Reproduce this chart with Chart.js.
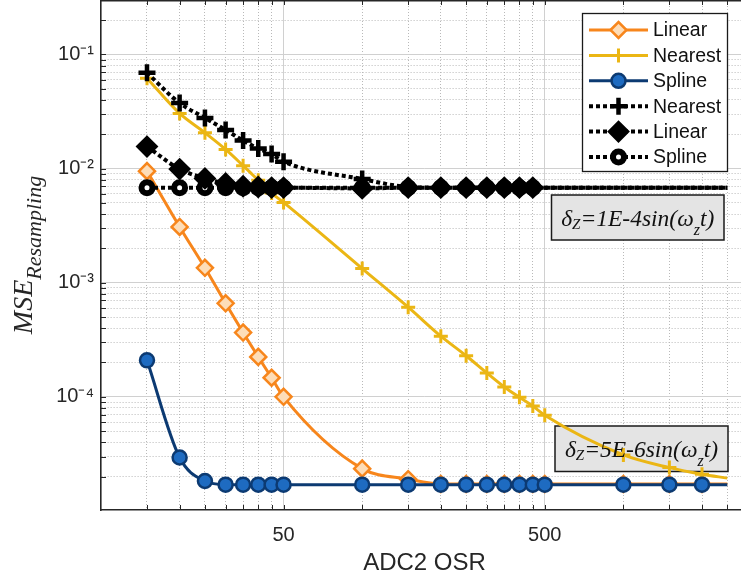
<!DOCTYPE html>
<html>
<head>
<meta charset="utf-8">
<title>MSE Resampling vs ADC2 OSR</title>
<script src="https://cdn.jsdelivr.net/npm/chart.js@4.4.1/dist/chart.umd.min.js"></script>
<style>
  html, body { margin: 0; padding: 0; background: #fff; overflow: hidden; }
  #frame { width: 741px; height: 581px; overflow: hidden; }
  #box { width: 749px; height: 581px; position: relative; }
</style>
</head>
<body>
<div id="frame"><div id="box"><canvas id="mseChart"></canvas></div></div>
<script>
// ADC2 OSR sample points
const osr = [15, 20, 25, 30, 35, 40, 45, 50, 100, 150, 200, 250, 300, 350, 400, 450, 500, 1000, 1500, 2000, 2500];

// dz = 5E-6 sin(wz t)  -> solid lines
const linearSmall  = [9.5e-3, 3.08e-3, 1.35e-3, 6.6e-4, 3.66e-4, 2.24e-4, 1.47e-4, 1.0e-4, 2.35e-5, 1.9e-5,
                      1.72e-5, 1.72e-5, 1.72e-5, 1.72e-5, 1.72e-5, 1.72e-5, 1.72e-5, 1.72e-5, 1.72e-5, 1.72e-5, 1.72e-5];
const nearestSmall = [6.2e-2, 3.04e-2, 2.06e-2, 1.47e-2, 1.06e-2, 7.9e-3, 6.1e-3, 5.05e-3, 1.33e-3, 6.1e-4,
                      3.4e-4, 2.29e-4, 1.62e-4, 1.22e-4, 9.9e-5, 8.3e-5, 6.9e-5, 3.1e-5, 2.4e-5, 2.1e-5, 1.94e-5];
const splineSmall  = [2.09e-4, 2.94e-5, 1.83e-5, 1.7e-5, 1.7e-5, 1.7e-5, 1.7e-5, 1.7e-5, 1.7e-5, 1.7e-5,
                      1.7e-5, 1.7e-5, 1.7e-5, 1.7e-5, 1.7e-5, 1.7e-5, 1.7e-5, 1.7e-5, 1.7e-5, 1.7e-5, 1.7e-5];

// dz = 1E-4 sin(wz t)  -> dotted lines
const nearestLarge = [6.9e-2, 3.75e-2, 2.78e-2, 2.18e-2, 1.76e-2, 1.5e-2, 1.34e-2, 1.15e-2, 8.1e-3, 6.9e-3,
                      6.8e-3, 6.8e-3, 6.8e-3, 6.8e-3, 6.8e-3, 6.8e-3, 6.8e-3, 6.8e-3, 6.8e-3, 6.8e-3, 6.8e-3];
const linearLarge  = [1.56e-2, 9.9e-3, 8.2e-3, 7.4e-3, 7.0e-3, 6.9e-3, 6.8e-3, 6.8e-3, 6.7e-3, 6.8e-3,
                      6.8e-3, 6.8e-3, 6.8e-3, 6.8e-3, 6.8e-3, 6.8e-3, 6.8e-3, 6.8e-3, 6.8e-3, 6.8e-3, 6.8e-3];
const splineLarge  = [6.8e-3, 6.8e-3, 6.8e-3, 6.8e-3, 6.8e-3, 6.8e-3, 6.8e-3, 6.8e-3, 6.8e-3, 6.8e-3,
                      6.8e-3, 6.8e-3, 6.8e-3, 6.8e-3, 6.8e-3, 6.8e-3, 6.8e-3, 6.8e-3, 6.8e-3, 6.8e-3, 6.8e-3];

// axis ticks
const xTicks = [15, 20, 25, 30, 35, 40, 45, 50, 100, 150, 200, 250, 300, 350, 400, 450, 500, 1000, 1500, 2000, 2500];
const xLabelled = [50, 500];
const yLabelled = [1e-4, 1e-3, 1e-2, 1e-1];
const yLabelText = ['10\u207B\u2074', '10\u207B\u00B3', '10\u207B\u00B2', '10\u207B\u00B9'];

const Y_MIN = 1.02e-5, Y_MAX = 0.3;
const yTicks = [];
for (let e = -5; e <= -1; e++) {
  for (let k = 1; k <= 9; k++) {
    const v = k * Math.pow(10, e);
    if (v > Y_MIN && v < Y_MAX) yTicks.push(v);
  }
}

const near = (a, b) => Math.abs(a - b) / b < 1e-6;
const isX = (v) => xLabelled.some((d) => near(v, d));
const isY = (v) => yLabelled.some((d) => near(v, d));

const sansFont = '"Liberation Sans", Arial, Helvetica, sans-serif';
const serifFont = '"Liberation Serif", "Times New Roman", serif';
Chart.defaults.font.family = sansFont;
Chart.defaults.color = '#262626';

const pts = (ys) => osr.map((x, i) => ({ x: x, y: ys[i] }));
const markerRadius = (c) =>
  c.raw && c.raw.x > c.dataset.lastMarker ? 0 : c.dataset.markerSize;

function series(label, ys, style) {
  return Object.assign({
    label: label,
    data: pts(ys),
    fill: false,
    cubicInterpolationMode: 'monotone',
    borderCapStyle: 'butt',
    pointRadius: markerRadius,
    pointHoverRadius: markerRadius,
  }, style);
}

const datasets = [
  series('Linear', linearSmall, {
    borderColor: '#F7861C', borderWidth: 3, order: 5,
    pointStyle: 'rectRot', markerSize: 8, lastMarker: 2000,
    pointBackgroundColor: '#FDDDB8', pointBorderColor: '#F7861C', pointBorderWidth: 2.5,
  }),
  series('Nearest', nearestSmall, {
    borderColor: '#EBB614', borderWidth: 3, order: 4,
    pointStyle: 'cross', markerSize: 7, lastMarker: 2000,
    pointBackgroundColor: '#EBB614', pointBorderColor: '#EBB614', pointBorderWidth: 3,
  }),
  series('Spline', splineSmall, {
    borderColor: '#0C3A72', borderWidth: 3, order: 3,
    pointStyle: 'circle', markerSize: 7, lastMarker: 2000,
    pointBackgroundColor: '#1E6BC1', pointBorderColor: '#0C3A72', pointBorderWidth: 2.5,
  }),
  series('Nearest', nearestLarge, {
    borderColor: '#000', borderWidth: 4, borderDash: [4, 3], order: 2,
    pointStyle: 'cross', markerSize: 8.5, lastMarker: 450,
    pointBackgroundColor: '#000', pointBorderColor: '#000', pointBorderWidth: 4.5,
  }),
  series('Linear', linearLarge, {
    borderColor: '#000', borderWidth: 4, borderDash: [4, 3], order: 0,
    pointStyle: 'rectRot', markerSize: 10, lastMarker: 450,
    pointBackgroundColor: '#000', pointBorderColor: '#000', pointBorderWidth: 2,
  }),
  series('Spline', splineLarge, {
    borderColor: '#000', borderWidth: 4, borderDash: [4, 3], order: 1,
    pointStyle: 'circle', markerSize: 5.5, lastMarker: 450,
    pointBackgroundColor: '#fff', pointBorderColor: '#000', pointBorderWidth: 6,
  }),
];

// rich text with sub scripts: parts = [text, size, dy]
function drawRich(ctx, parts, cx, baseY, family, italic) {
  const font = (s) => (italic ? 'italic ' : '') + s + 'px ' + family;
  let total = 0;
  parts.forEach((p) => { ctx.font = font(p[1]); total += ctx.measureText(p[0]).width; });
  let x = cx - total / 2;
  ctx.textAlign = 'left';
  ctx.textBaseline = 'alphabetic';
  parts.forEach((p) => {
    ctx.font = font(p[1]);
    ctx.fillText(p[0], x, baseY + p[2]);
    x += ctx.measureText(p[0]).width;
  });
}

const notes = [
  { x: 551.5, y: 195, w: 172.5, h: 45, base: 226,
    parts: [['\u03B4', 23.5, 0], ['Z', 15, 3], ['=1E-4sin(\u03C9', 23.5, 0], ['z', 16, 9], ['t)', 23.5, 0]] },
  { x: 555, y: 426, w: 173, h: 45.5, base: 457,
    parts: [['\u03B4', 23.5, 0], ['Z', 15, 3], ['=5E-6sin(\u03C9', 23.5, 0], ['z', 16, 9], ['t)', 23.5, 0]] },
];

const noteBoxes = {
  id: 'noteBoxes',
  beforeDatasetsDraw(chart) {
    const ctx = chart.ctx;
    ctx.save();
    notes.forEach((n) => {
      ctx.fillStyle = '#E4E4E4';
      ctx.fillRect(n.x, n.y, n.w, n.h);
      ctx.strokeStyle = '#1a1a1a';
      ctx.lineWidth = 1.5;
      ctx.strokeRect(n.x, n.y, n.w, n.h);
    });
    ctx.restore();
  },
  afterDatasetsDraw(chart) {
    const ctx = chart.ctx;
    ctx.save();
    ctx.fillStyle = '#111';
    notes.forEach((n) => drawRich(ctx, n.parts, n.x + n.w / 2, n.base, serifFont, true));
    ctx.restore();
  },
};

// box frame + inward tick marks, MATLAB style
const frameTicks = {
  id: 'frameTicks',
  afterDatasetsDraw(chart) {
    const { ctx, chartArea: a, scales } = chart;
    ctx.save();
    ctx.strokeStyle = '#262626';
    ctx.lineWidth = 1;
    ctx.beginPath();
    scales.x.ticks.forEach((t) => {
      const px = Math.round(scales.x.getPixelForValue(t.value)) + 0.5;
      ctx.moveTo(px, a.bottom); ctx.lineTo(px, a.bottom - 5);
      ctx.moveTo(px, a.top); ctx.lineTo(px, a.top + 5);
    });
    scales.y.ticks.forEach((t) => {
      const py = Math.round(scales.y.getPixelForValue(t.value)) + 0.5;
      ctx.moveTo(a.left, py); ctx.lineTo(a.left + 5, py);
      ctx.moveTo(a.right, py); ctx.lineTo(a.right - 5, py);
    });
    ctx.stroke();
    ctx.lineWidth = 1.6;
    ctx.beginPath();
    ctx.moveTo(a.left, a.top + 0.8); ctx.lineTo(a.right, a.top + 0.8);
    ctx.stroke();
    ctx.restore();
  },
};

const boxLegend = {
  id: 'boxLegend',
  afterDraw(chart) {
    const ctx = chart.ctx;
    const L = { x: 582.5, y: 13.5, w: 145, h: 158, first: 30, row: 25.4 };
    ctx.save();
    ctx.fillStyle = '#fff';
    ctx.fillRect(L.x, L.y, L.w, L.h);
    ctx.strokeStyle = '#1a1a1a';
    ctx.lineWidth = 1.3;
    ctx.strokeRect(L.x, L.y, L.w, L.h);
    chart.data.datasets.forEach((ds, i) => {
      const y = L.first + i * L.row;
      ctx.save();
      ctx.strokeStyle = ds.borderColor;
      ctx.lineWidth = ds.borderWidth;
      ctx.setLineDash(ds.borderDash || []);
      ctx.beginPath();
      ctx.moveTo(589, y); ctx.lineTo(648, y);
      ctx.stroke();
      ctx.setLineDash([]);
      ctx.fillStyle = ds.pointBackgroundColor;
      ctx.strokeStyle = ds.pointBorderColor;
      ctx.lineWidth = ds.pointBorderWidth;
      Chart.helpers.drawPoint(ctx, {
        pointStyle: ds.pointStyle, rotation: 0,
        radius: ds.markerSize, borderWidth: ds.pointBorderWidth,
      }, 618.5, y);
      ctx.restore();
      ctx.fillStyle = '#111';
      ctx.font = '19.5px ' + sansFont;
      ctx.textAlign = 'left';
      ctx.textBaseline = 'middle';
      ctx.fillText(ds.label, 653, y + 1);
    });
    ctx.restore();
  },
};

// y axis title with subscript
const yTitle = {
  id: 'yTitle',
  afterDraw(chart) {
    const ctx = chart.ctx;
    const a = chart.chartArea;
    ctx.save();
    ctx.translate(32, (a.top + a.bottom) / 2);
    ctx.rotate(-Math.PI / 2);
    ctx.fillStyle = '#262626';
    drawRich(ctx, [['MSE', 28, 0], ['Resampling', 22, 9]], 0, 0, serifFont, true);
    ctx.restore();
  },
};

new Chart(document.getElementById('mseChart'), {
  type: 'line',
  data: { datasets: datasets },
  options: {
    responsive: true,
    maintainAspectRatio: false,
    animation: false,
    events: [],
    layout: { autoPadding: false, padding: { left: 0, right: 1, top: 0, bottom: 0 } },
    plugins: { legend: { display: false }, tooltip: { enabled: false } },
    scales: {
      x: {
        type: 'logarithmic',
        min: 10,
        max: 3000,
        afterBuildTicks: (s) => { s.ticks = xTicks.map((v) => ({ value: v })); },
        afterFit: (s) => { s.height = 71; s.paddingLeft = 0; s.paddingRight = 0; },
        ticks: {
          autoSkip: false,
          maxRotation: 0,
          padding: 13,
          font: { size: 20 },
          color: '#262626',
          callback: (v) => (isX(v) ? String(v) : ''),
        },
        grid: {
          drawTicks: false,
          color: (c) => (c.tick && isX(c.tick.value) ? '#d0d0d0' : '#b9b9b9'),
          lineWidth: 1,
        },
        border: {
          color: '#262626', width: 1.6,
          dash: (c) => (c.tick && !isX(c.tick.value) ? [1, 2] : []),
        },
        title: {
          display: true, text: 'ADC2 OSR',
          font: { size: 24 }, color: '#262626',
          padding: { top: 0, bottom: 3 },
        },
      },
      y: {
        type: 'logarithmic',
        min: Y_MIN,
        max: Y_MAX,
        afterBuildTicks: (s) => { s.ticks = yTicks.map((v) => ({ value: v })); },
        afterFit: (s) => { s.width = 101; s.paddingTop = 0; s.paddingBottom = 0; },
        ticks: {
          autoSkip: false,
          padding: 7,
          font: { size: 20 },
          color: '#262626',
          callback: (v) => {
            const i = yLabelled.findIndex((d) => near(v, d));
            return i >= 0 ? yLabelText[i] : '';
          },
        },
        grid: {
          drawTicks: false,
          color: (c) => (c.tick && isY(c.tick.value) ? '#d0d0d0' : '#b9b9b9'),
          lineWidth: 1,
        },
        border: {
          color: '#262626', width: 1.6,
          dash: (c) => (c.tick && !isY(c.tick.value) ? [1, 2] : []),
        },
      },
    },
  },
  plugins: [noteBoxes, frameTicks, boxLegend, yTitle],
});
</script>
</body>
</html>
